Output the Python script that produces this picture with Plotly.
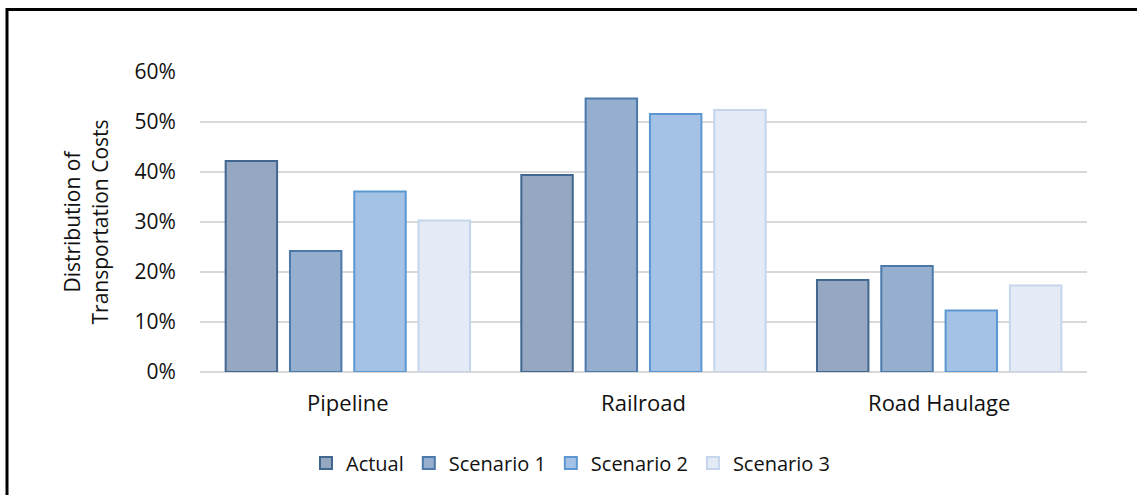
import plotly.graph_objects as go

categories = ["Pipeline", "Railroad", "Road Haulage"]
series_names = ["Actual", "Scenario 1", "Scenario 2", "Scenario 3"]
actual = [0.422, 0.394, 0.184]
scenario_1 = [0.242, 0.547, 0.212]
scenario_2 = [0.361, 0.516, 0.123]
scenario_3 = [0.303, 0.524, 0.173]
y_ticks = [0, 0.1, 0.2, 0.3, 0.4, 0.5, 0.6]

series_values = [actual, scenario_1, scenario_2, scenario_3]
fill_colors = ["#95A7C1", "#97AFCF", "#A4C2E6", "#E4EBF6"]
line_colors = ["#41668F", "#4A79AA", "#5D97D1", "#C5D5EC"]

FONT = "Open Sans"
TXT = "#111111"
W, H = 1137, 495
L, R, T, B = 200, 50, 72, 123

fig = go.Figure()
for name, vals, fc, lc in zip(series_names, series_values, fill_colors, line_colors):
    fig.add_trace(go.Bar(
        x=categories, y=vals, name=name,
        marker=dict(color=fc, line=dict(color=lc, width=2)),
    ))

pw, ph = W - L - R, H - T - B
def px_x(x):
    return (x - L) / pw
def px_y(y):
    return (H - B - y) / ph

# Outer frame: visible top and left edges only (right/bottom run off the page)
frame = dict(type="rect", xref="paper", yref="paper",
             x0=px_x(7), x1=px_x(W + 10), y0=px_y(H + 10), y1=px_y(9.5),
             line=dict(color="black", width=3), fillcolor="rgba(0,0,0,0)", layer="above")

fig.update_layout(
    width=W, height=H,
    margin=dict(l=L, r=R, t=T, b=B),
    paper_bgcolor="white", plot_bgcolor="white",
    font=dict(family=FONT, size=21, color=TXT),
    barmode="group", bargap=0.13, bargroupgap=0.2,
    showlegend=True,
    legend=dict(orientation="h", x=px_x(306), xanchor="left", y=px_y(463), yanchor="middle",
                font=dict(family=FONT, size=20, color=TXT),
                itemwidth=30, traceorder="normal"),
    shapes=[frame],
    xaxis=dict(showgrid=False, showline=False, ticks="outside", ticklen=12,
               tickcolor="rgba(0,0,0,0)", tickfont=dict(size=22)),
    yaxis=dict(range=[0, 0.6], tickvals=y_ticks, tickformat=".0%",
               showgrid=True, gridcolor="#D9D9D9", gridwidth=2,
               zeroline=True, zerolinecolor="#D9D9D9", zerolinewidth=2,
               showline=False, ticks="outside", ticklen=19, tickcolor="rgba(0,0,0,0)",
               tickfont=dict(size=21),
               title=dict(text="Distribution of<br>Transportation Costs",
                          font=dict(size=21), standoff=20)),
)

fig.write_html("out.html")
